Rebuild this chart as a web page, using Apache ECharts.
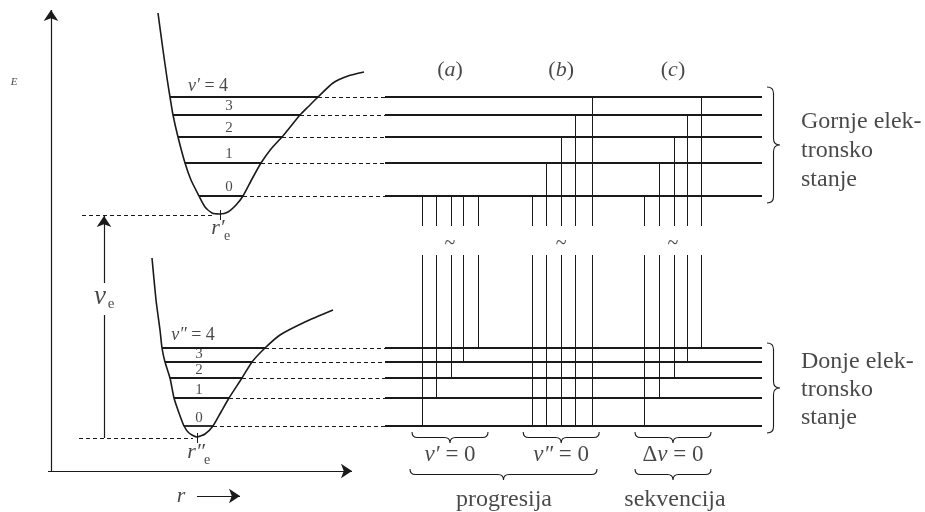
<!DOCTYPE html>
<html>
<head>
<meta charset="utf-8">
<script src="https://cdn.jsdelivr.net/npm/echarts@6/dist/echarts.min.js"></script>
<style>
  html, body { margin: 0; background: #fff; }
  #chart { width: 925px; height: 512px; }
</style>
</head>
<body>
<div id="chart"></div>
<script>
// vibrational levels v = 0..4 (picture y, downwards), upper and lower electronic state
const upperLevels = [196, 163, 137, 115, 97];
const lowerLevels = [426, 398, 378, 362, 348];
// turning points of each level on the potential curve
const upperLeft = [199, 185, 178, 173, 170];
const upperRight = [243, 261, 282, 300, 318];
const lowerLeft = [184, 174, 170, 165, 162];
const lowerRight = [213, 229, 242, 252, 265];
// potential energy curves
const upperCurve = [[158, 13], [163, 50], [167, 78], [170, 97], [173, 115], [178, 137], [185, 163], [191, 180], [199, 196],
  [205, 207], [212, 213], [220, 214], [228, 212], [236, 205], [243, 196], [252, 179], [261, 163], [271, 149], [282, 137],
  [291, 126], [300, 115], [309, 106], [318, 97], [333, 83], [348, 76], [364, 72]];
const lowerCurve = [[152, 258], [156, 300], [160, 330], [162, 348], [165, 362], [170, 378], [174, 398], [179, 413],
  [184, 426], [189, 433], [197, 437], [205, 434], [213, 426], [221, 412], [229, 398], [242, 378], [252, 362], [265, 348],
  [280, 335], [305, 322], [333, 310]];
const upperMin = [220, 214];
const lowerMin = [197, 437];

// transitions v' -> v'' of the three groups
const groupNames = ['a', 'b', 'c'];
const groupBottom = ['{i|v′} = 0', '{i|v″} = 0', 'Δ{i|v} = 0'];
const groupX = [
  [422, 436, 451, 463, 478],
  [532, 546, 561, 575, 592],
  [644, 659, 674, 687, 701]
];
const groupUpper = [[0, 0, 0, 0, 0], [0, 1, 2, 3, 4], [0, 1, 2, 3, 4]];
const groupLower = [[0, 1, 2, 3, 4], [0, 0, 0, 0, 0], [0, 1, 2, 3, 4]];

const levelStart = 385, levelEnd = 762;
const breakTop = 226, breakBottom = 255;
const serif = 'Liberation Serif';
const ink = '#1a1a1a';

function seg(x1, y1, x2, y2) { return { coords: [[x1, y1], [x2, y2]] }; }

const wellLevels = [], dashLevels = [], rightLevels = [];
upperLevels.forEach((y, i) => {
  wellLevels.push(seg(upperLeft[i], y, upperRight[i], y));
  dashLevels.push(seg(upperRight[i], y, levelStart, y));
  rightLevels.push(seg(levelStart, y, levelEnd, y));
});
lowerLevels.forEach((y, i) => {
  wellLevels.push(seg(lowerLeft[i], y, lowerRight[i], y));
  dashLevels.push(seg(lowerRight[i], y, levelStart, y));
  rightLevels.push(seg(levelStart, y, levelEnd, y));
});
dashLevels.push(seg(82, upperMin[1] + 1, upperMin[0] - 6, upperMin[1] + 1));
dashLevels.push(seg(79, lowerMin[1] + 1, lowerMin[0] - 4, lowerMin[1] + 1));

const transitions = [];
groupX.forEach((xs, g) => {
  xs.forEach((x, k) => {
    transitions.push(seg(x, upperLevels[groupUpper[g][k]], x, breakTop));
    transitions.push(seg(x, breakBottom, x, lowerLevels[groupLower[g][k]]));
  });
});
const minTicks = [
  seg(upperMin[0], upperMin[1] - 4, upperMin[0], upperMin[1] + 6),
  seg(lowerMin[0], lowerMin[1] - 4, lowerMin[0], lowerMin[1] + 6)
];

const arrows = [
  seg(51, 472, 51, 10),
  seg(48, 471, 352, 471),
  seg(104, 283, 104, upperMin[1] + 2),
  seg(197, 496, 240, 496)
];
const plainLines = [seg(104, lowerMin[1] + 1, 104, 315)];

const groupCenter = groupX.map(xs => xs.reduce((s, v) => s + v, 0) / xs.length);
// braces: [x1, x2, y]
const hBraces = groupCenter.map(c => [c - 38, c + 38, 432]);
hBraces.push([410, 597, 469]);
hBraces.push([groupCenter[2] - 38, groupCenter[2] + 38, 469]);
// braces on the right: [y1, y2, x]
const vBraces = [[87, 203, 767], [343, 433, 767]];

// text
const texts = [];
function txt(x, y, text, size, italic, align) {
  texts.push({
    value: [x, y],
    label: {
      formatter: () => text, fontSize: size, fontFamily: serif, color: ink,
      fontStyle: italic ? 'italic' : 'normal', align: align || 'center', verticalAlign: 'middle',
      rich: { i: { fontStyle: 'italic', fontFamily: serif, fontSize: size, color: ink } }
    }
  });
}
txt(14, 82, 'E', 11, true);
upperLevels.forEach((y, i) => {
  if (i < 4) txt(229, y - 9, String(i), 15, false);
});
txt(208, upperLevels[4] - 11, '{i|v′} = 4', 18, false);
lowerLevels.forEach((y, i) => {
  if (i < 4) txt(199, y - 8, String(i), 15, false);
});
txt(193, lowerLevels[4] - 13, '{i|v″} = 4', 18, false);
txt(218, 228, 'r′', 22, true);
txt(227, 236, 'e', 14, false);
txt(196, 452, 'r″', 22, true);
txt(207, 460, 'e', 14, false);
txt(100, 297, 'ν', 27, true);
txt(111, 304, 'e', 15, false);
txt(181, 496, 'r', 22, true);
groupNames.forEach((n, g) => {
  txt(groupCenter[g], 70, '({i|' + n + '})', 22, false);
  txt(groupCenter[g], 244, '~', 20, false);
  txt(hBraces[g][0] / 2 + hBraces[g][1] / 2, 455, groupBottom[g], 23, false);
});
txt(504, 500, 'progresija', 24, false);
txt(groupCenter[2] + 2, 500, 'sekvencija', 24, false);
['Gornje elek-', 'tronsko', 'stanje'].forEach((t, i) => txt(801, 122 + i * 29, t, 24, false, 'left'));
['Donje elek-', 'tronsko', 'stanje'].forEach((t, i) => txt(801, 362 + i * 28, t, 24, false, 'left'));

function bracePathH(p1, p2, h) {
  const y = p1[1], m = (p1[0] + p2[0]) / 2, r = h / 2;
  return `M${p1[0]},${y} Q${p1[0]},${y + r} ${p1[0] + r},${y + r} L${m - r},${y + r} Q${m},${y + r} ${m},${y + h}` +
    ` Q${m},${y + r} ${m + r},${y + r} L${p2[0] - r},${y + r} Q${p2[0]},${y + r} ${p2[0]},${y}`;
}
function bracePathV(p1, p2, h) {
  const x = p1[0], m = (p1[1] + p2[1]) / 2, r = h / 2;
  return `M${x},${p1[1]} Q${x + r},${p1[1]} ${x + r},${p1[1] + r} L${x + r},${m - r} Q${x + r},${m} ${x + h},${m}` +
    ` Q${x + r},${m} ${x + r},${m + r} L${x + r},${p2[1] - r} Q${x + r},${p2[1]} ${x},${p2[1]}`;
}

const chart = echarts.init(document.getElementById('chart'));
const lineBase = { type: 'lines', coordinateSystem: 'cartesian2d', silent: true, animation: false };

chart.setOption({
  animation: false,
  textStyle: { fontFamily: serif },
  grid: { left: 0, right: 0, top: 0, bottom: 0 },
  xAxis: { type: 'value', min: 0, max: 925, show: false },
  yAxis: { type: 'value', min: 0, max: 512, inverse: true, show: false },
  series: [
    { type: 'line', data: upperCurve, smooth: 0.2, showSymbol: false, silent: true, lineStyle: { color: ink, width: 1.6 } },
    { type: 'line', data: lowerCurve, smooth: 0.2, showSymbol: false, silent: true, lineStyle: { color: ink, width: 1.6 } },
    Object.assign({ data: wellLevels, lineStyle: { color: ink, width: 1.8, opacity: 1 } }, lineBase),
    Object.assign({ data: dashLevels, lineStyle: { color: ink, width: 1, type: [4, 3], opacity: 1 } }, lineBase),
    Object.assign({ data: rightLevels, lineStyle: { color: ink, width: 1.8, opacity: 1 } }, lineBase),
    Object.assign({ data: transitions, lineStyle: { color: ink, width: 1, opacity: 1 } }, lineBase),
    Object.assign({ data: minTicks, lineStyle: { color: ink, width: 1, opacity: 1 } }, lineBase),
    Object.assign({ data: plainLines, lineStyle: { color: ink, width: 1.2, opacity: 1 } }, lineBase),
    Object.assign({ data: arrows, symbol: ['none', 'arrow'], symbolSize: 11, lineStyle: { color: ink, width: 1.2, opacity: 1 } }, lineBase),
    {
      type: 'custom', silent: true, data: hBraces,
      renderItem: (params, api) => ({
        type: 'path',
        shape: { pathData: bracePathH(api.coord([api.value(0), api.value(2)]), api.coord([api.value(1), api.value(2)]), 11) },
        style: { fill: 'none', stroke: ink, lineWidth: 1.1 }
      })
    },
    {
      type: 'custom', silent: true, data: vBraces,
      renderItem: (params, api) => ({
        type: 'path',
        shape: { pathData: bracePathV(api.coord([api.value(2), api.value(0)]), api.coord([api.value(2), api.value(1)]), 13) },
        style: { fill: 'none', stroke: ink, lineWidth: 1.1 }
      })
    },
    {
      type: 'scatter', data: texts, symbolSize: 0, silent: true,
      label: { show: true, position: 'inside', color: ink, fontFamily: serif }
    }
  ]
});
</script>
</body>
</html>
